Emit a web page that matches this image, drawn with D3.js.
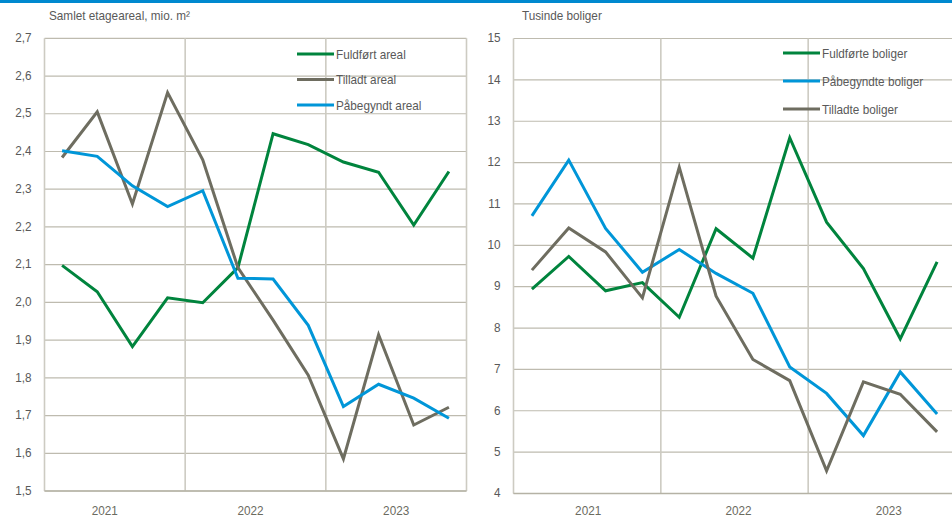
<!DOCTYPE html>
<html>
<head>
<meta charset="utf-8">
<script src="https://cdn.jsdelivr.net/npm/d3@7"></script>
<style>
  body { margin: 0; background: #fff; }
  svg { display: block; font-family: "Liberation Sans", Arial, sans-serif; }
  .grid line { stroke: #bebbaf; stroke-width: 1.2; }
  .vgrid line { stroke: #cdcbc2; stroke-width: 1.6; }
  .tick-label { fill: #595959; font-size: 13.5px; }
  .year-label { fill: #6b6b5f; font-size: 13.5px; }
  .title { fill: #595959; font-size: 13.5px; }
  .legend text { fill: #595959; font-size: 13.5px; }
  .series { fill: none; stroke-width: 3; stroke-linejoin: miter; }
</style>
</head>
<body>
<div id="chart"></div>
<script>
// quarters 2021Q1 .. 2023Q4
const quarters = ["2021K1","2021K2","2021K3","2021K4","2022K1","2022K2","2022K3","2022K4","2023K1","2023K2","2023K3","2023K4"];
const years = ["2021","2022","2023"];

// left panel: samlet etageareal, mio. m2
const fuldfoertAreal = [2.098, 2.028, 1.883, 2.012, 1.999, 2.092, 2.447, 2.418, 2.372, 2.345, 2.205, 2.347];
const tilladtAreal   = [2.384, 2.505, 2.261, 2.556, 2.378, 2.092, 1.953, 1.807, 1.585, 1.914, 1.675, 1.722];
const paabegyndtAreal = [2.402, 2.387, 2.309, 2.254, 2.296, 2.064, 2.062, 1.939, 1.724, 1.783, 1.746, 1.693];
const leftTicks = [1.5,1.6,1.7,1.8,1.9,2.0,2.1,2.2,2.3,2.4,2.5,2.6,2.7];

// right panel: tusinde boliger
const fuldfoerteBoliger = [8.94, 9.73, 8.90, 9.10, 8.26, 10.40, 9.69, 12.60, 10.56, 9.44, 7.74, 9.60];
const paabegyndteBoliger = [10.71, 12.06, 10.41, 9.35, 9.90, 9.32, 8.84, 7.06, 6.42, 5.40, 6.94, 5.92];
const tilladteBoliger = [9.40, 10.42, 9.84, 8.73, 11.89, 8.77, 7.24, 6.73, 4.55, 6.70, 6.40, 5.49];
const rightTicks = [4,5,6,7,8,9,10,11,12,13,14,15];

const colors = { green: "#00843d", gray: "#6e6d60", blue: "#0096d8" };

const width = 952, height = 518;
const narrow = 0.87;   // squeeze text horizontally, the original font is a narrow one

const svg = d3.select("#chart").append("svg")
    .attr("width", width)
    .attr("height", height);

// blue bar at the top
svg.append("rect")
    .attr("x", 0).attr("y", 0)
    .attr("width", width).attr("height", 3)
    .attr("fill", "#0089cf");

const fmtComma = d => d3.format(".1f")(d).replace(".", ",");

// narrow text helper
function addText(sel, cls, x, y, anchor) {
    let g = sel.append("g")
        .attr("transform", d => "translate(" + x(d) + "," + y(d) + ")");
    return g.append("text")
        .attr("class", cls)
        .attr("text-anchor", anchor)
        .attr("transform", "scale(" + narrow + ",1)");
}

function drawPanel(cfg) {
    let g = svg.append("g");

    let x = d3.scaleBand()
        .domain(quarters)
        .range([cfg.x0, cfg.x1])
        .padding(0);

    let y = d3.scaleLinear()
        .domain(cfg.domain)
        .range([cfg.y1, cfg.y0]);

    // horizontal gridlines
    g.append("g").attr("class", "grid")
        .selectAll("line")
        .data(cfg.ticks).enter()
        .append("line")
        .attr("x1", cfg.x0)
        .attr("x2", cfg.x1)
        .attr("y1", d => y(d))
        .attr("y2", d => y(d));

    // vertical lines at year boundaries (plus left axis)
    let bounds = [0, 4, 8, 12].map(i => i < 12 ? x(quarters[i]) : cfg.x1);
    g.append("g").attr("class", "vgrid")
        .selectAll("line")
        .data(bounds).enter()
        .append("line")
        .attr("x1", d => d).attr("x2", d => d)
        .attr("y1", cfg.y0).attr("y2", cfg.y1);

    // bottom axis line
    g.append("line")
        .attr("x1", cfg.x0).attr("x2", cfg.x1)
        .attr("y1", y(cfg.domain[0])).attr("y2", y(cfg.domain[0]))
        .attr("stroke", "#b5b2a5").attr("stroke-width", 1.6);

    // y tick labels
    addText(g.selectAll(".tl").data(cfg.ticks).enter(), "tick-label",
            d => cfg.x0 - 13, d => y(d) - 1, "end")
        .attr("dy", "0.35em")
        .text(cfg.format);

    // year labels
    addText(g.selectAll(".yl").data(years).enter(), "year-label",
            (d) => {
                let i = years.indexOf(d);
                return (bounds[i] + bounds[i + 1]) / 2 + cfg.yearShift[i];
            }, d => 515, "middle")
        .text(d => d);

    // title
    addText(g.selectAll(".tt").data([cfg.title]).enter(), "title",
            d => cfg.titleX, d => 20, "start")
        .text(d => d);

    let line = d3.line()
        .x((d, i) => x(quarters[i]) + x.bandwidth() / 2)
        .y(d => y(d));

    // draw series in the order given (last on top)
    cfg.draw.forEach(s => {
        g.append("path")
            .attr("class", "series")
            .attr("stroke", s.color)
            .attr("d", line(s.values));
    });

    // legend
    let lg = g.append("g").attr("class", "legend");
    let items = lg.selectAll("g")
        .data(cfg.legend).enter()
        .append("g")
        .attr("transform", (d, i) => "translate(" + cfg.legendX + "," + (cfg.legendY + i * cfg.legendStep) + ")");
    items.append("line")
        .attr("x1", 0).attr("x2", 37)
        .attr("y1", 0).attr("y2", 0)
        .attr("stroke", d => d.color)
        .attr("stroke-width", 3);
    items.append("text")
        .attr("x", 39 / narrow)
        .attr("dy", "0.35em")
        .attr("transform", "scale(" + narrow + ",1)")
        .text(d => d.name);
}

drawPanel({
    x0: 44.5, x1: 466.5, y0: 38.3, y1: 491,
    domain: [1.5, 2.7], ticks: leftTicks, format: fmtComma,
    title: "Samlet etageareal, mio. m²", titleX: 49,
    yearShift: [-10, -5, 0],
    draw: [
        { color: colors.green, values: fuldfoertAreal },
        { color: colors.gray, values: tilladtAreal },
        { color: colors.blue, values: paabegyndtAreal }
    ],
    legend: [
        { name: "Fuldført areal", color: colors.green },
        { name: "Tilladt areal", color: colors.gray },
        { name: "Påbegyndt areal", color: colors.blue }
    ],
    legendX: 297, legendY: 54, legendStep: 25.5
});

drawPanel({
    x0: 513.5, x1: 955.5, y0: 38.5, y1: 493.5,
    domain: [4, 15], ticks: rightTicks, format: d => d,
    title: "Tusinde boliger", titleX: 522,
    yearShift: [1, 4, 7],
    draw: [
        { color: colors.green, values: fuldfoerteBoliger },
        { color: colors.blue, values: paabegyndteBoliger },
        { color: colors.gray, values: tilladteBoliger }
    ],
    legend: [
        { name: "Fuldførte boliger", color: colors.green },
        { name: "Påbegyndte boliger", color: colors.blue },
        { name: "Tilladte boliger", color: colors.gray }
    ],
    legendX: 783, legendY: 53, legendStep: 28
});
</script>
</body>
</html>
